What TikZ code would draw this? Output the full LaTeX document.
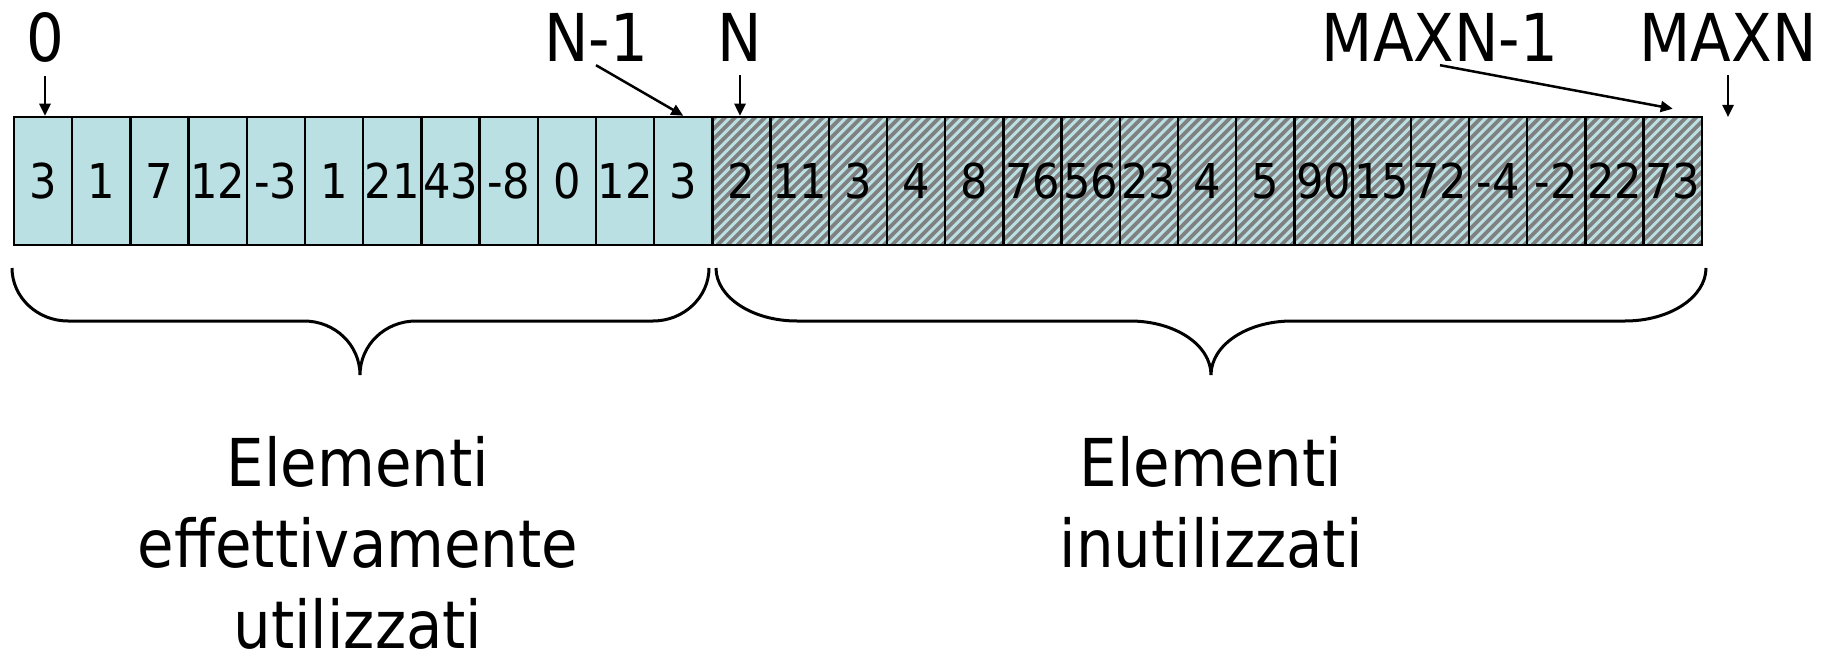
\documentclass[tikz,border=0pt]{standalone}
\usepackage{fontspec}
\usetikzlibrary{arrows.meta}
\newfontfamily\arrfont{DejaVu Sans Condensed}
\definecolor{cellcyan}{RGB}{186,224,228}
\definecolor{hatchgray}{RGB}{128,128,128}

\tikzset{
  cell/.style={draw, line width=2.5pt, minimum width=58.2pt, minimum height=128pt,
    inner sep=0pt, font=\arrfont\fontsize{48}{56}\selectfont},
  used/.style={fill=cellcyan},
  unused/.style={fill=hatchgray, path picture={
      \foreach \k in {-14,...,7}
        \draw[cellcyan, line width=3pt] ([xshift=\k*10pt]path picture bounding box.south west) -- +(150pt,150pt);}},
  idx/.style={inner sep=0pt, anchor=base, font=\arrfont\fontsize{66}{79}\selectfont},
  bracket/.style={line width=3pt},
  caption/.style={align=center, anchor=north, inner sep=0pt, font=\arrfont\fontsize{66}{81}\selectfont}
}

\begin{document}
\begin{tikzpicture}[x=1pt, y=-1pt, >={Triangle[length=12pt,width=11pt]}]
\useasboundingbox (0,0) rectangle (1836,655);

% the array
\foreach \v [count=\i from 0] in {3,1,7,12,-3,1,21,43,-8,0,12,3}
  \node[cell, used] (c\i) at ({14+58.2*(\i+0.5)},181) {\v};
\foreach \v [count=\i from 12] in {2,11,3,4,8,76,56,23,4,5,90,15,72,-4,-2,22,73}
  \node[cell, unused] (c\i) at ({14+58.2*(\i+0.5)},181) {\v};
\coordinate (cend) at ({14+58.2*29.5},117);

% indices
\node[idx] (I0) at (45,62) {0};
\node[idx] (I1) at (596,62) {N-1};
\node[idx] (I2) at (740,62) {N};
\node[idx] (I3) at (1440,62) {MAXN-1};
\node[idx] (I4) at (1728,62) {MAXN};

\draw[->, line width=2.5pt] ([yshift=-13pt]I0.south) -- (I0.south |- c0.north);
\draw[->, line width=2.5pt] ([yshift=-3pt]I1.south) -- (c11.north);
\draw[->, line width=2.5pt] ([yshift=-13pt]I2.south) -- (I2.south |- c12.north);
\draw[->, line width=2.5pt] ([yshift=-3pt]I3.south) -- ([yshift=7pt]c28.north);
\draw[->, line width=2.5pt] ([yshift=-13pt]I4.south) -- (I4.south |- cend);

% braces
\draw[bracket] (12,268) .. controls (12,297) and (37,321) .. (68,321) -- (304,321)
  .. controls (335,321) and (360,345) .. (360,375)
  .. controls (360,345) and (385,321) .. (416,321) -- (653,321)
  .. controls (684,321) and (709,297) .. (709,268);
\draw[bracket] (716,268) .. controls (716,297) and (752,321) .. (797,321) -- (1130,321)
  .. controls (1175,321) and (1211,345) .. (1211,375)
  .. controls (1211,345) and (1247,321) .. (1292,321) -- (1625,321)
  .. controls (1670,321) and (1706,297) .. (1706,268);

\node[caption] (T1) at (358,436) {Elementi\\effettivamente\\utilizzati};
\node[caption] (T2) at (1211,436) {Elementi\\inutilizzati};
\end{tikzpicture}
\end{document}
